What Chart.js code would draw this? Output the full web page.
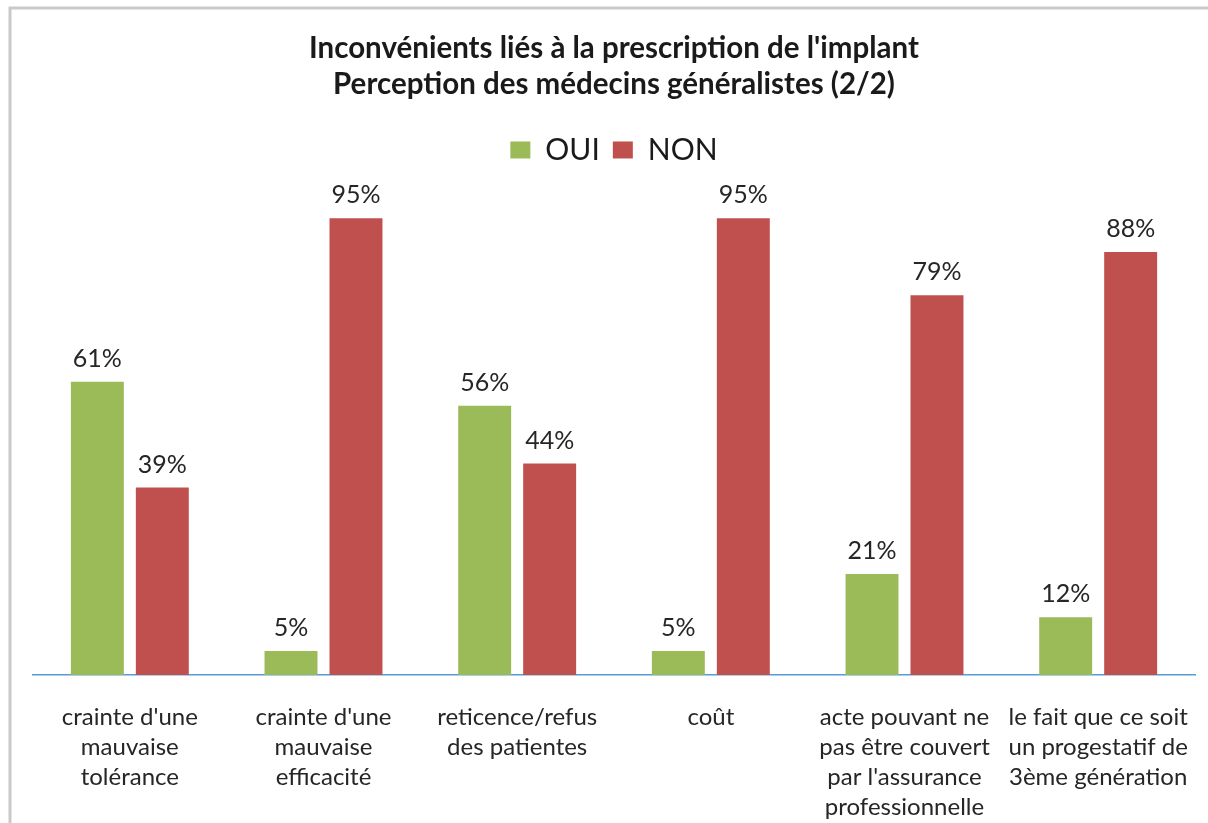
<!DOCTYPE html>
<html>
<head>
<meta charset="utf-8">
<script src="https://cdn.jsdelivr.net/npm/chart.js@4"></script>
<style>
  html, body { margin: 0; padding: 0; background: #fff; }
  #wrap { width: 1208px; height: 823px; position: relative; }
</style>
</head>
<body>
<div id="wrap"><canvas id="chart"></canvas></div>
<script>
var categories = [
    ["crainte d'une", "mauvaise", "tolérance"],
    ["crainte d'une", "mauvaise", "efficacité"],
    ["reticence/refus", "des patientes"],
    ["coût"],
    ["acte pouvant ne", "pas être couvert", "par l'assurance", "professionnelle"],
    ["le fait que ce soit", "un progestatif de", "3ème génération"]
]
var oui = [61, 5, 56, 5, 21, 12]
var non = [39, 95, 44, 95, 79, 88]

// valeurs au-dessus des barres
var valueLabels = {
    id: 'valueLabels',
    afterDatasetsDraw: function (chart) {
        var ctx = chart.ctx
        ctx.save()
        ctx.font = '25px Lato'
        ctx.fillStyle = '#262626'
        ctx.textAlign = 'center'
        ctx.textBaseline = 'middle'
        chart.data.datasets.forEach(function (ds, i) {
            chart.getDatasetMeta(i).data.forEach(function (bar, j) {
                ctx.fillText(ds.data[j] + '%', bar.x, bar.y - 23)
            })
        })
        ctx.restore()
    }
}

// cadre gris (haut et gauche)
var frame = {
    id: 'frame',
    beforeDraw: function (chart) {
        var ctx = chart.ctx
        ctx.save()
        ctx.strokeStyle = '#c9c9c9'
        ctx.lineWidth = 3
        ctx.beginPath()
        ctx.moveTo(10, 823)
        ctx.lineTo(10, 8)
        ctx.lineTo(1208, 8)
        ctx.stroke()
        ctx.restore()
    }
}

var config = {
    type: 'bar',
    data: {
        labels: categories,
        datasets: [
            { label: 'OUI', data: oui, backgroundColor: '#9bbb59' },
            { label: 'NON', data: non, backgroundColor: '#c0504d' }
        ]
    },
    options: {
        responsive: false,
        animation: false,
        layout: { padding: { left: 33, right: 13, top: 0, bottom: 0 } },
        categoryPercentage: 0.671,
        barPercentage: 0.815,
        scales: {
            x: {
                grid: { display: false, drawTicks: false },
                border: { display: true, color: '#5b9bd5', width: 1.5 },
                ticks: {
                    padding: 27,
                    color: '#262626',
                    font: { family: 'Lato', size: 24, lineHeight: 1.25 },
                    maxRotation: 0,
                    autoSkip: false
                },
                afterFit: function (scale) {
                    scale.height = 148
                    scale.paddingLeft = 0
                    scale.paddingRight = 0
                }
            },
            y: {
                display: false,
                min: 0,
                max: 104
            }
        },
        plugins: {
            title: {
                display: true,
                text: ["Inconvénients liés à la prescription de l'implant", 'Perception des médecins généralistes (2/2)'],
                color: '#1a1a1a',
                font: { family: 'Lato', size: 29.5, weight: 'bold', lineHeight: 1.22 },
                padding: { top: 30, bottom: 20 }
            },
            legend: {
                display: true,
                labels: {
                    color: '#1a1a1a',
                    font: { family: 'Lato', size: 30 },
                    boxWidth: 20,
                    boxHeight: 17,
                    padding: 13
                }
            },
            tooltip: { enabled: false }
        }
    },
    plugins: [valueLabels, frame]
}

var canvas = document.getElementById('chart')
canvas.width = 1208
canvas.height = 823
new Chart(canvas.getContext('2d'), config)
</script>
</body>
</html>
